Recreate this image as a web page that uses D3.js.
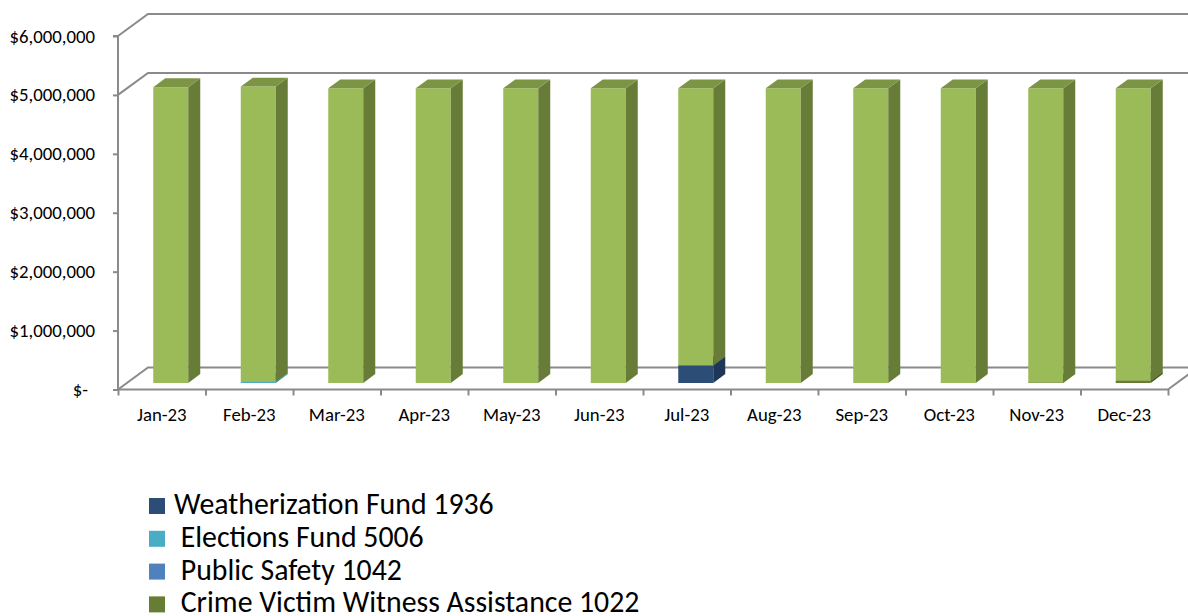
<!DOCTYPE html>
<html>
<head>
<meta charset="utf-8">
<script src="https://cdn.jsdelivr.net/npm/d3@7"></script>
<style>
  html, body { margin: 0; padding: 0; background: #ffffff; }
  svg { display: block; }
  text { font-family: Carlito, Calibri, Lato, sans-serif; fill: #000; }
</style>
</head>
<body>
<svg id="chart" width="1188" height="616"></svg>
<script>
// ---------- data ----------
const categories = ["Jan-23","Feb-23","Mar-23","Apr-23","May-23","Jun-23","Jul-23","Aug-23","Sep-23","Oct-23","Nov-23","Dec-23"];
const weatherizationFund1936 = [0, 0, 0, 0, 0, 0, 300000, 0, 0, 0, 0, 0];
const electionsFund5006      = [0, 20000, 0, 0, 0, 0, 0, 0, 0, 0, 0, 0];
const publicSafety1042       = [0, 0, 0, 0, 0, 0, 0, 0, 0, 0, 0, 0];
const crimeVictimWitness1022 = [0, 0, 0, 0, 0, 0, 0, 0, 0, 0, 5000, 40000];
const mainFund               = [5020000, 5010000, 5000000, 5000000, 5000000, 5000000, 4700000, 5000000, 5000000, 5000000, 4995000, 4960000];
const seriesNames = ["Weatherization Fund 1936", " Elections Fund 5006", " Public Safety 1042", " Crime Victim Witness Assistance 1022"];
const yTickValues = [0, 1000000, 2000000, 3000000, 4000000, 5000000, 6000000];
const yTickLabels = ["$-", "$1,000,000", "$2,000,000", "$3,000,000", "$4,000,000", "$5,000,000", "$6,000,000"];
const gridValues = [0, 5000000, 6000000];

// ---------- styling ----------
const seriesFront = ["#2C4D75", "#4BACC6", "#4F81BD", "#667D33", "#9BBB59"];
const seriesSide  = ["#1F3757", "#357F93", "#3A5F8C", "#4B5C25", "#677D37"];
const seriesTop   = ["#274467", "#4398AF", "#4672A8", "#5A6F2D", "#7B9545"];
const legendColors = seriesFront.slice(0, 4);
const axisColor = "#8A8A8A";

const allSeries = [weatherizationFund1936, electionsFund5006, publicSafety1042, crimeVictimWitness1022, mainFund];

const svg = d3.select("#chart");
const x = d3.scaleBand().domain(categories).range([118, 1168]).paddingInner(0.6).paddingOuter(0.3);
const y = d3.scaleLinear().domain([0, 6000000]).range([389.5, 36]);
const DX = 30, DY = 22;       // depth projection
const F0 = 0.3, F1 = 0.7;     // bar depth (fraction of floor depth)

function P(px, v, f) { return [px + f * DX, y(v) - f * DY]; }
const line = d3.line();

// ---------- walls / gridlines ----------
const gridG = svg.append("g");
const xLeft = x.range()[0], xRight = x.range()[1];
gridValues.forEach(v => {
  gridG.append("path")
    .attr("d", line([P(xLeft, v, 0), P(xLeft, v, 1), P(xRight + 40, v, 1)]))
    .attr("fill", "none").attr("stroke", axisColor).attr("stroke-width", 2);
});
gridG.append("path")
  .attr("d", line([P(xRight, 0, 0), P(xRight, 0, 1)]))
  .attr("fill", "none").attr("stroke", axisColor).attr("stroke-width", 2);

// ---------- bars ----------
const barsG = svg.append("g");
categories.forEach((c, i) => {
  let base = 0;
  const bx = x(c), bw = x.bandwidth();
  allSeries.forEach((s, si) => {
    const v = s[i];
    if (!v) return;
    const lo = base, hi = base + v;
    base = hi;
    const g = barsG.append("g");
    g.append("path").attr("d", line([P(bx, lo, F0), P(bx + bw, lo, F0), P(bx + bw, hi, F0), P(bx, hi, F0)]) + "Z")
      .attr("fill", seriesFront[si]);
    g.append("path").attr("d", line([P(bx + bw, lo, F0), P(bx + bw, lo, F1), P(bx + bw, hi, F1), P(bx + bw, hi, F0)]) + "Z")
      .attr("fill", seriesSide[si]);
    g.append("path").attr("d", line([P(bx, hi, F0), P(bx + bw, hi, F0), P(bx + bw, hi, F1), P(bx, hi, F1)]) + "Z")
      .attr("fill", seriesTop[si]);
  });
});

// ---------- axes ----------
const yAxis = d3.axisLeft(y).tickValues(yTickValues).tickSize(5).tickPadding(18)
  .tickFormat((d, i) => yTickLabels[i]);
const yAxisG = svg.append("g").attr("transform", `translate(${xLeft},0)`).call(yAxis);
yAxisG.select(".domain").attr("d", `M-5,${y(6000000)}H0V${y(0)}`).attr("stroke", axisColor).attr("stroke-width", 2);
yAxisG.selectAll(".tick line").attr("stroke", axisColor).attr("stroke-width", 2);
yAxisG.selectAll(".tick text").attr("font-size", 18.8).attr("font-family", "Carlito, Calibri, Lato, sans-serif").attr("fill", "#000")
  .attr("dx", (d, i) => i === 0 ? -7 : 0);

const boundary = d3.scaleLinear().domain([0, categories.length]).range([xLeft, xRight]);
const xAxis = d3.axisBottom(boundary).tickValues(d3.range(categories.length + 1)).tickSize(6).tickFormat("");
const xAxisG = svg.append("g").attr("transform", `translate(0,${y(0)})`).call(xAxis);
xAxisG.select(".domain").attr("d", `M${xLeft},0H${xRight}`).attr("stroke", axisColor).attr("stroke-width", 2);
xAxisG.selectAll(".tick line").attr("stroke", axisColor).attr("stroke-width", 2);

svg.append("g").selectAll("text").data(categories).join("text")
  .attr("x", c => x(c) + x.bandwidth() / 2)
  .attr("y", y(0) + 31)
  .attr("text-anchor", "middle")
  .attr("font-size", 18.8)
  .text(c => c);

// ---------- legend ----------
const legend = svg.append("g");
seriesNames.forEach((name, i) => {
  const base = 514 + i * 32.8;
  legend.append("rect").attr("x", 149).attr("y", base - 16).attr("width", 16).attr("height", 16).attr("fill", legendColors[i]);
  legend.append("text").attr("x", 174).attr("y", base).attr("font-size", 29.8)
    .style("white-space", "pre").text(name);
});
</script>
</body>
</html>
